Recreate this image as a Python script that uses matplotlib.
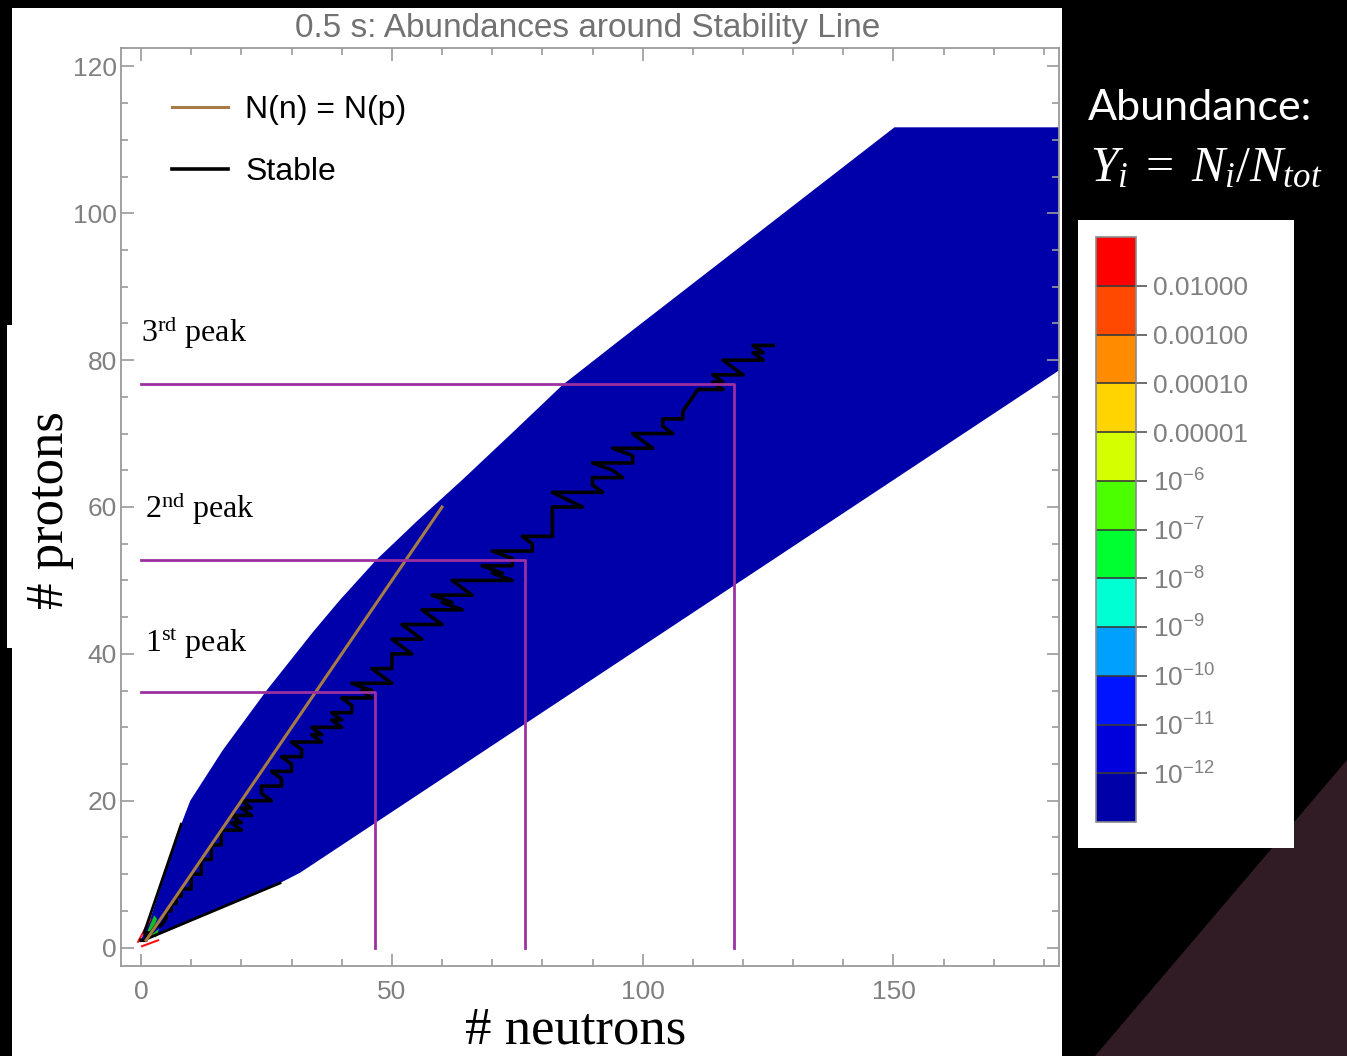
import matplotlib

matplotlib.use("Agg")
import matplotlib.pyplot as plt
import numpy as np
from matplotlib.colors import BoundaryNorm, ListedColormap
from matplotlib.cm import ScalarMappable
from matplotlib.patches import Polygon, Rectangle

plt.rcParams["font.family"] = ["Liberation Sans", "DejaVu Sans"]
plt.rcParams["mathtext.fontset"] = "custom"
plt.rcParams["mathtext.rm"] = "Liberation Serif"
plt.rcParams["mathtext.it"] = "Liberation Serif:italic"
plt.rcParams["mathtext.sf"] = "Liberation Sans"

# ---- data ----
# outline of the abundance region (lowest contour level, N vs Z)
upper_n = [-0.2, 1.8, 8.0, 9.8, 16.3, 25.0, 34.3, 39.6, 46.9, 55.2, 64.2, 74.0, 84.0, 95.4, 150.2, 183.0]
upper_z = [0.8, 3.8, 16.8, 20.0, 26.9, 35.0, 43.0, 47.3, 52.8, 58.2, 63.8, 70.1, 76.6, 82.7, 111.7, 111.7]
lower_n = [-0.2, 3.8, 27.7, 31.7, 183.0]
lower_z = [0.8, 1.8, 8.8, 10.2, 78.6]

# small high-abundance patches near the origin
green_n = [0.7, 2.6, 3.2, 1.6]
green_z = [1.3, 4.4, 3.9, 1.2]
green2_n = [1.8, 3.6, 3.0]
green2_z = [1.6, 2.6, 1.4]
red_up_n = [-0.6, 1.8]
red_up_z = [0.8, 3.8]
red_lo_n = [0.2, 3.4]
red_lo_z = [0.2, 1.0]

# black contour edges near the origin
edge_up_n = [0.6, 8.0]
edge_up_z = [2.0, 16.8]
edge_lo_n = [1.5, 27.7]
edge_lo_z = [1.3, 8.8]

# N(n) = N(p) line
eq_n = [1, 60]
eq_z = [1, 60]

# stable isotopes: proton number and neutron numbers
stable_z = [1, 2, 3, 4, 5, 6, 7, 8, 9, 10, 11, 12, 13, 14, 15, 16, 17, 18, 19, 20,
            21, 22, 23, 24, 25, 26, 27, 28, 29, 30, 31, 32, 33, 34, 35, 36, 37, 38, 39, 40,
            41, 42, 44, 45, 46, 47, 48, 49, 50, 51, 52, 53, 54, 55, 56, 57, 58, 59, 60,
            62, 63, 64, 65, 66, 67, 68, 69, 70, 71, 72, 73, 74, 75, 76, 77, 78, 79, 80, 81, 82]
stable_n = [
    [0, 1], [1, 2], [3, 4], [5], [5, 6], [6, 7], [7, 8], [8, 9, 10], [10], [10, 11, 12],
    [12], [12, 13, 14], [14], [14, 15, 16], [16], [16, 17, 18, 20], [18, 20], [18, 20, 22],
    [20, 22], [20, 22, 23, 24, 26],
    [24], [24, 25, 26, 27, 28], [28], [26, 28, 29, 30], [30], [28, 30, 31, 32], [32],
    [30, 32, 33, 34, 36], [34, 36], [34, 36, 37, 38, 40], [38, 40], [38, 40, 41, 42], [42],
    [40, 42, 43, 44, 46], [44, 46], [42, 44, 46, 47, 48, 50], [48], [46, 48, 49, 50], [50],
    [50, 51, 52, 54],
    [52], [50, 52, 53, 54, 55, 56], [52, 54, 55, 56, 57, 58, 60], [58], [56, 58, 59, 60, 62, 64],
    [60, 62], [58, 60, 62, 63, 64, 66], [64], [62, 64, 65, 66, 67, 68, 69, 70, 72, 74],
    [70, 72], [68, 70, 71, 72, 73, 74], [74], [70, 72, 74, 75, 76, 77, 78], [78],
    [76, 78, 79, 80, 81, 82], [82], [82], [82], [82, 83, 85, 86, 88],
    [82, 87, 88, 90, 92], [90], [90, 91, 92, 93, 94, 96], [94], [90, 92, 94, 95, 96, 97, 98],
    [98], [94, 96, 98, 99, 100, 102], [100], [98, 100, 101, 102, 103, 104, 106], [104],
    [104, 105, 106, 107, 108], [108], [109], [110], [111, 112, 113, 114, 116], [114, 116],
    [114, 116, 117, 118, 120], [118], [116, 118, 119, 120, 121, 122, 124], [122, 124],
    [122, 124, 125, 126],
]

# r-process peaks (N, Z)
peak_n = [46.6, 76.6, 118.3]
peak_z = [34.8, 52.8, 76.8]
peak_labels = [r"1$^{\mathrm{st}}$ peak", r"2$^{\mathrm{nd}}$ peak", r"3$^{\mathrm{rd}}$ peak"]
peak_label_xy = [(0.8, 40.3), (0.8, 58.5), (0.0, 82.4)]

# colour bar levels
cbar_levels = [1e-13, 1e-12, 1e-11, 1e-10, 1e-9, 1e-8, 1e-7, 1e-6, 1e-5, 1e-4, 1e-3, 1e-2, 1e-1]
cbar_colors = ["#0000a8", "#0000dd", "#0014ff", "#00a0ff", "#00ffd2", "#00ff30",
               "#4cff00", "#d4ff00", "#ffd400", "#ff8c00", "#ff4800", "#ff0000"]
cbar_ticklabels = [r"$\mathsf{10^{-12}}$", r"$\mathsf{10^{-11}}$", r"$\mathsf{10^{-10}}$",
                   r"$\mathsf{10^{-9}}$", r"$\mathsf{10^{-8}}$", r"$\mathsf{10^{-7}}$",
                   r"$\mathsf{10^{-6}}$", "0.00001", "0.00010", "0.00100", "0.01000"]

W, H = 1347, 1056
fig = plt.figure(figsize=(W / 100, H / 100), dpi=100, facecolor="black")

# slide background pieces
fig.patches.append(Rectangle((12 / W, 0), 1050 / W, 1048 / H, transform=fig.transFigure,
                             facecolor="white", edgecolor="none", zorder=-5))
fig.patches.append(Rectangle((7 / W, 408 / H), 113 / W, 323 / H, transform=fig.transFigure,
                             facecolor="white", edgecolor="none", zorder=-5))
fig.patches.append(Polygon([(1.0, 296 / H), (1095 / W, 0), (1.0, 0)], closed=True,
                           transform=fig.transFigure, facecolor="#311c26", edgecolor="none", zorder=-5))
fig.patches.append(Rectangle((1078 / W, 208 / H), 216 / W, 628 / H, transform=fig.transFigure,
                             facecolor="white", edgecolor="none", zorder=-4))

ax = fig.add_axes([121 / W, 90 / H, 938 / W, 918 / H])
ax.set_facecolor("white")

# abundance region
region_n = upper_n + lower_n[::-1]
region_z = upper_z + lower_z[::-1]
ax.fill(region_n, region_z, color="#0000aa", lw=0, zorder=1)
ax.fill(green_n, green_z, color="#10c020", lw=0, zorder=2)
ax.fill(green2_n, green2_z, color="#10c020", lw=0, zorder=2)
ax.plot(red_up_n, red_up_z, color="#ff1010", lw=1.5, zorder=2)
ax.plot(red_lo_n, red_lo_z, color="#ff1010", lw=1.5, zorder=2)
ax.plot(edge_up_n, edge_up_z, color="black", lw=2, zorder=3)
ax.plot(edge_lo_n, edge_lo_z, color="black", lw=2, zorder=3)

# stable line
line_n, line_z = [], []
for z, ns in zip(stable_z, stable_n):
    for n in ns:
        line_n.append(n)
        line_z.append(z)
ax.plot(eq_n, eq_z, color="#a67b45", lw=2.2, zorder=5, label="N(n) = N(p)")
ax.plot(line_n, line_z, color="black", lw=2.6, zorder=4, label="Stable")

# peak markers
for n, z in zip(peak_n, peak_z):
    ax.plot([0, n, n], [z, z, 0], color="#9b30a0", lw=2, zorder=6)
for lab, (x, y) in zip(peak_labels, peak_label_xy):
    ax.text(x, y, lab, fontsize=23, family="Liberation Serif", va="baseline", ha="left", zorder=7)

ax.set_xlim(-4, 183)
ax.set_ylim(-2.5, 122.5)
ax.set_xticks([0, 50, 100, 150])
ax.set_xticks(np.arange(0, 181, 10), minor=True)
ax.set_yticks([0, 20, 40, 60, 80, 100, 120])
ax.set_yticks(np.arange(0, 121, 5), minor=True)
ax.tick_params(which="both", direction="in", top=True, right=True, color="#9a9a9a",
               labelcolor="#808080", labelsize=19, width=1.2)
ax.tick_params(which="major", length=9)
ax.tick_params(which="minor", length=5)
ax.tick_params(axis="x", pad=10)
ax.tick_params(axis="y", pad=3)
for sp in ax.spines.values():
    sp.set_color("#9a9a9a")
    sp.set_linewidth(1.3)

ax.legend(loc="upper left", bbox_to_anchor=(0.0544, 0.949), frameon=False, fontsize=23,
          handlelength=1.75, handletextpad=0.55, labelspacing=1.0, borderpad=0,
          borderaxespad=0)

fig.text(588 / W, 1 - 28 / H, "0.5 s: Abundances around Stability Line", fontsize=24,
         color="#727272", ha="center", va="center")
fig.text(576 / W, 1 - 1030 / H, "# neutrons", fontsize=38, family="Liberation Serif",
         ha="center", va="center")
fig.text(50 / W, 1 - 510 / H, "# protons", fontsize=38, family="Liberation Serif",
         rotation=90, ha="center", va="center")

# colour bar
cax = fig.add_axes([1096 / W, 234 / H, 40 / W, 585 / H])
cmap = ListedColormap(cbar_colors)
norm = BoundaryNorm(cbar_levels, cmap.N)
cb = fig.colorbar(ScalarMappable(norm=norm, cmap=cmap), cax=cax, ticks=cbar_levels[1:-1],
                  spacing="uniform", drawedges=True)
cb.ax.set_yticklabels(cbar_ticklabels)
cb.ax.minorticks_off()
cb.dividers.set_color("#3a3a3a")
cb.dividers.set_linewidth(1.2)
cb.outline.set_edgecolor("#8a8a8a")
cb.outline.set_linewidth(1.2)
cb.ax.tick_params(direction="out", length=8, width=1.2, color="#555555", labelsize=19,
                  labelcolor="#808080", pad=4)

fig.text(1088 / W, 1 - 108 / H, "Abundance:", fontsize=31, family="Lato", color="white",
         ha="left", va="center")
fig.text(1090 / W, 1 - 168 / H, r"$Y_i\;=\;N_i/N_{tot}$", fontsize=36, color="white",
         ha="left", va="center")

fig.savefig("out.png", dpi=100, facecolor="black")
